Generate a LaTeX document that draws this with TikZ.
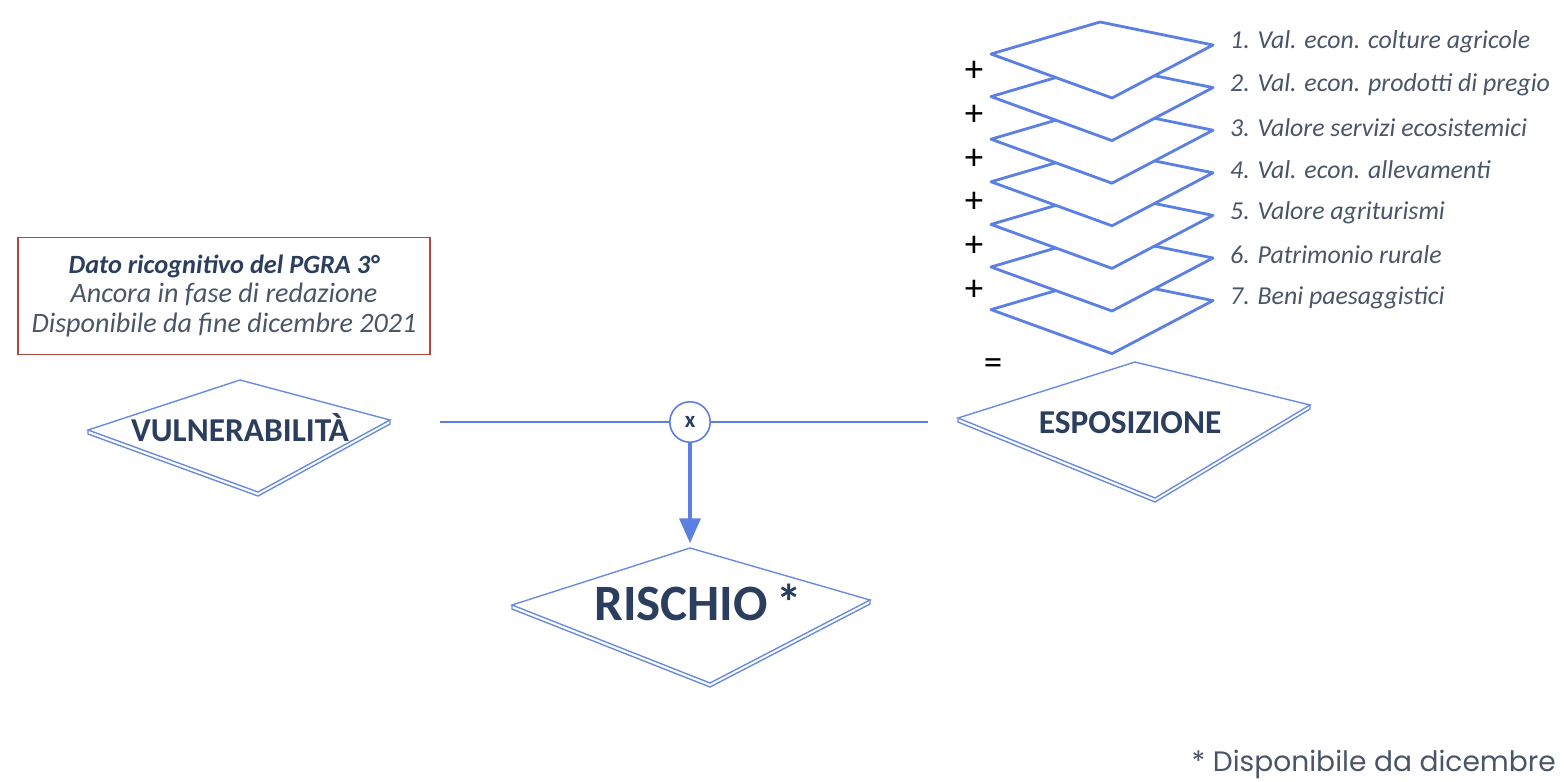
\documentclass[tikz,border=0pt]{standalone}
\usepackage{fontspec}
\setmainfont{Carlito}
\newfontfamily\notefont{Poppins}
\usetikzlibrary{arrows.meta}

\definecolor{layerblue}{HTML}{5B7FE3}
\definecolor{slabblue}{HTML}{6A8BE0}
\definecolor{navy}{HTML}{2B3E5E}
\definecolor{labelgray}{HTML}{4A5568}
\definecolor{boxred}{HTML}{B0483F}

% skewed diamond with a thin bottom edge: left, top, right, bottom
\newcommand{\slab}[4]{%
  \draw[slabline] (#1) -- ([shift={(0,4)}]#1) -- ([shift={(0,4)}]#4)
    -- ([shift={(0,4)}]#3) -- (#3);
  \draw[slabline,fill=white] (#1) -- (#2) -- (#3) -- (#4) -- cycle;}

\begin{document}
\begin{tikzpicture}[x=0.02cm,y=-0.02cm,
    layer/.style={draw=layerblue,line width=1.6pt,fill=white,line join=round},
    slabline/.style={draw=slabblue,line width=0.8pt},
    link/.style={draw=layerblue,line width=0.9pt},
    flow/.style={draw=layerblue,line width=1.8pt,-{Triangle[length=14pt,width=12pt]}},
    mult node/.style={circle,draw=layerblue,line width=0.9pt,fill=white,
      minimum size=23pt,inner sep=0pt,font=\bfseries\fontsize{13}{13}\selectfont,text=navy},
    big text/.style={font=\bfseries\fontsize{19}{21}\selectfont,text=navy},
    layer text/.style={anchor=west,font=\itshape\fontsize{14.7}{16}\selectfont,text=labelgray},
    sign/.style={font=\fontsize{21}{21}\selectfont}]
  \useasboundingbox (0,0) rectangle (1564,781);

  %layers of the exposure%
  \foreach \k in {6,5,...,0}
    \draw[layer] (991,{54+42.6*\k}) -- (1100,{22+42.6*\k}) -- (1213,{45+42.6*\k})
      -- (1112,{98+42.6*\k}) -- cycle;
  \foreach \k/\txt in {0/1. Val. econ. colture agricole,
                       1/2. Val. econ. prodotti di pregio,
                       2/3. Valore servizi ecosistemici,
                       3/4. Val. econ. allevamenti,
                       4/5. Valore agriturismi,
                       5/6. Patrimonio rurale,
                       6/7. Beni paesaggistici}
    \node[layer text] (lab\k) at (1224,{42+42.6*\k}) {\txt};
  \foreach \k in {1,...,6}
    \node[sign] (plus\k) at (974,{28+43.7*\k}) {+};
  \node[sign] (eq) at (993,367) {=};

  %note box%
  \node[draw=boxred,line width=1.1pt,minimum width=412*0.02cm,minimum height=117*0.02cm,
        align=center,text=labelgray,font=\itshape\fontsize{16}{17}\selectfont] (note) at (224,296)
    {{\bfseries\color{navy}\fontsize{15}{17}\selectfont Dato ricognitivo del PGRA 3°}\\
     Ancora in fase di redazione\\
     Disponibile da fine dicembre 2021};

  %diamonds%
  \slab{88,430}{240,380}{390,420}{258,492}
  \slab{958,418}{1135,362}{1310,405}{1155,498}
  \slab{512,605}{690,548}{870,600}{710,683}
  \node[big text] (vul) at (240,428) {VULNERABILITÀ};
  \node[big text] (esp) at (1130,423) {ESPOSIZIONE};
  \node[big text,font=\bfseries\fontsize{29}{30}\selectfont] (risk) at (698,602) {RISCHIO\,*};

  \coordinate (vulR) at (440,422);
  \coordinate (espL) at (928,422);
  \coordinate (riskT) at (690,543);
  \node[mult node] (mult) at (690,422) {x};
  \draw[link] (vulR) -- (mult);
  \draw[link] (mult) -- (espL);
  \draw[flow] (mult) -- (riskT);

  \node[anchor=east,text=labelgray,font=\notefont\fontsize{16}{18}\selectfont] (foot) at (1562,764)
    {* Disponibile da dicembre};
\end{tikzpicture}
\end{document}
